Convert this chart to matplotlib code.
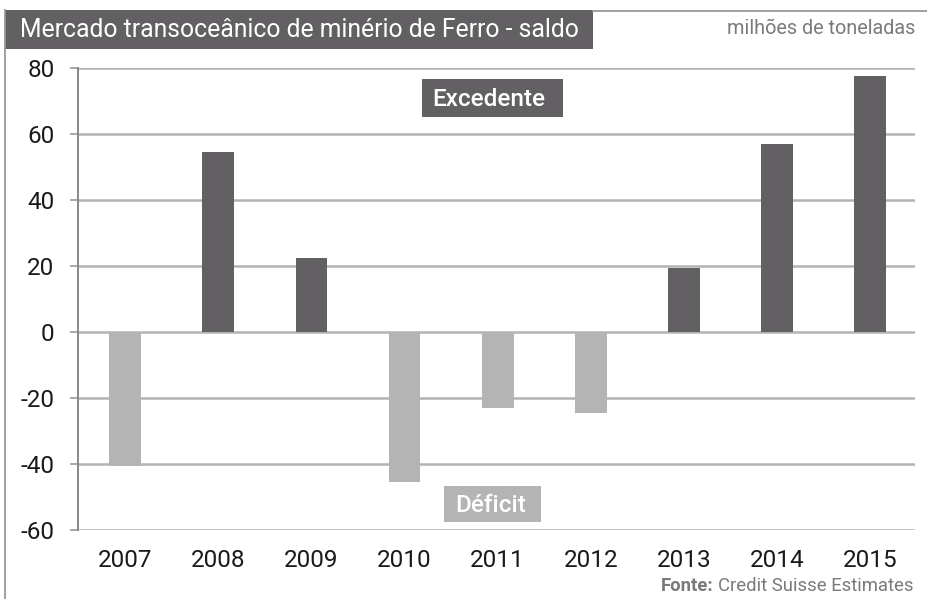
import matplotlib
matplotlib.use("Agg")
import matplotlib.pyplot as plt
from matplotlib.patches import Rectangle
from matplotlib.lines import Line2D

# Données (milhões de toneladas)
anos = ["2007", "2008", "2009", "2010", "2011", "2012", "2013", "2014", "2015"]
saldo = [-40.5, 54.5, 22.4, -45.5, -23.0, -24.5, 19.5, 57.0, 77.5]
yticks = [80, 60, 40, 20, 0, -20, -40, -60]

escuro = "#636064"
claro = "#b4b4b4"
cinza_grid = "#b3b3b3"

plt.rcParams["font.family"] = ["Roboto", "DejaVu Sans"]

W, H = 927, 599
fig = plt.figure(figsize=(W / 100, H / 100), dpi=100)


def fx(x):
    return x / W


def fy(y):
    return 1 - y / H


ax = fig.add_axes([fx(78), fy(530), fx(915) - fx(78), fy(68) - fy(530)])

cores = [escuro if v >= 0 else claro for v in saldo]
x = range(len(anos))
ax.bar(x, saldo, width=0.34, color=cores, zorder=3)

ax.set_xlim(-0.505, 8.48)
ax.set_ylim(-60, 80)
ax.set_yticks(yticks)
ax.set_yticklabels([str(t) for t in yticks], fontsize=17.5, color="#1a1a1a")
ax.set_xticks(list(x))
ax.set_xticklabels(anos, fontsize=17.5, color="#1a1a1a")
ax.tick_params(axis="x", length=0, pad=14)
ax.tick_params(axis="y", length=6, width=1.2, color="#999999", pad=11)

ax.grid(axis="y", color=cinza_grid, linewidth=1.8, zorder=0)
for s in ["top", "right", "bottom"]:
    ax.spines[s].set_visible(False)
ax.spines["left"].set_color("#888888")
ax.spines["left"].set_linewidth(1.4)

# Moldura
fig.add_artist(Line2D([fx(5), fx(5)], [fy(10), 0], color="#999999", lw=1.3))
fig.add_artist(Line2D([fx(593), 1], [fy(11), fy(11)], color="#999999", lw=1.3))

# Título
fig.add_artist(Rectangle((fx(5), fy(49)), fx(593) - fx(5), fy(10) - fy(49),
                         color=escuro, lw=0))
fig.text(fx(20), fy(30), "Mercado transoceânico de minério de Ferro - saldo",
         color="white", fontsize=17.8, va="center", ha="left")
fig.text(fx(915), fy(28), "milhões de toneladas", color="#7a7a7a",
         fontsize=14.3, va="center", ha="right")

# Rótulos
fig.add_artist(Rectangle((fx(422), fy(117)), fx(563) - fx(422), fy(79) - fy(117),
                         color=escuro, lw=0, zorder=5))
fig.text(fx(489), fy(99), "Excedente", color="white", fontsize=17.5,
         fontweight="medium", va="center", ha="center", zorder=6)
fig.add_artist(Rectangle((fx(444), fy(522)), fx(541) - fx(444), fy(486) - fy(522),
                         color=claro, lw=0, zorder=5))
fig.text(fx(491), fy(505), "Déficit", color="white", fontsize=17.5,
         fontweight="medium", va="center", ha="center", zorder=6)

# Fonte
t = fig.text(fx(913), fy(586), "Credit Suisse Estimates", color="#7a7a7a",
             fontsize=13.3, va="center", ha="right")
fig.canvas.draw()
bb = t.get_window_extent()
fig.text(bb.x0 / W - fx(4), fy(586), "Fonte:", color="#7a7a7a", fontsize=13.3,
         fontweight="bold", va="center", ha="right")

fig.savefig("out.png", dpi=100)
